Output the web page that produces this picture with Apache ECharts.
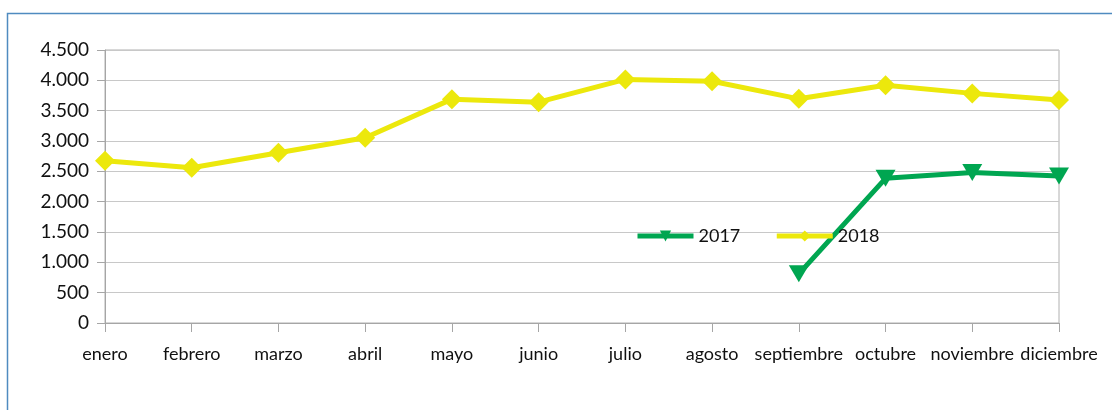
<!DOCTYPE html>
<html><head><meta charset="utf-8">
<script src="https://cdn.jsdelivr.net/npm/echarts@6/dist/echarts.min.js"></script>
<style>html,body{margin:0;padding:0;background:#fff}#c{width:1112px;height:410px}</style>
</head><body><div id="c"></div>
<script>
const months = ['enero','febrero','marzo','abril','mayo','junio','julio','agosto','septiembre','octubre','noviembre','diciembre'];
const s2017 = [null,null,null,null,null,null,null,null,810,2385,2480,2425];
const s2018 = [2675,2560,2805,3055,3690,3640,4015,3985,3695,3920,3785,3675];
const yTicks = [0,500,1000,1500,2000,2500,3000,3500,4000,4500];

const chart = echarts.init(document.getElementById('c'), null, {renderer:'canvas'});
const fmt = v => String(v).replace(/\B(?=(\d{3})+(?!\d))/g, '.');
const font = 'Lato, "Open Sans", sans-serif';
const green = '#00a651', yellow = '#ece80c';
chart.setOption({
  animation:false,
  graphic:[{type:'rect', shape:{x:7.5,y:13.5,width:1200,height:500}, style:{fill:'none',stroke:'#4f8bc0',lineWidth:1.5}, silent:true}],
  grid:{left:105,right:53,top:50,bottom:87,show:true,borderColor:'#b0b0b0',borderWidth:1,backgroundColor:'transparent'},
  legend:{
    left:630, top:222, itemWidth:56, itemHeight:14, itemGap:34,
    textStyle:{fontFamily:font,fontSize:18,color:'#111'},
    data:[
      {name:'2017',lineStyle:{width:5,color:green},itemStyle:{color:green}},
      {name:'2018',lineStyle:{width:5,color:yellow},itemStyle:{color:yellow}}
    ]
  },
  xAxis:{type:'category',data:months,boundaryGap:false,
    axisLine:{lineStyle:{color:'#a6a6a6'}},
    axisTick:{show:true,length:9,lineStyle:{color:'#a6a6a6'}},
    axisLabel:{color:'#111',fontFamily:font,fontSize:18,margin:22,interval:0},
    splitLine:{show:false}},
  yAxis:{type:'value',min:0,max:4500,interval:500,
    axisLine:{show:true,lineStyle:{color:'#a6a6a6'}},
    axisTick:{show:true,length:8,lineStyle:{color:'#a6a6a6'}},
    axisLabel:{color:'#111',fontFamily:font,fontSize:19,margin:16,formatter:v=>yTicks.includes(v)?fmt(v):''},
    splitLine:{lineStyle:{color:'#c8c8c8'}}},
  series:[
    {name:'2017',type:'line',data:s2017,connectNulls:false,symbol:'triangle',symbolRotate:180,symbolSize:[20,17],
      lineStyle:{color:green,width:5},itemStyle:{color:green},z:3},
    {name:'2018',type:'line',data:s2018,symbol:'diamond',symbolSize:[20,20],
      lineStyle:{color:yellow,width:5},itemStyle:{color:yellow},z:2}
  ]
});
</script></body></html>
